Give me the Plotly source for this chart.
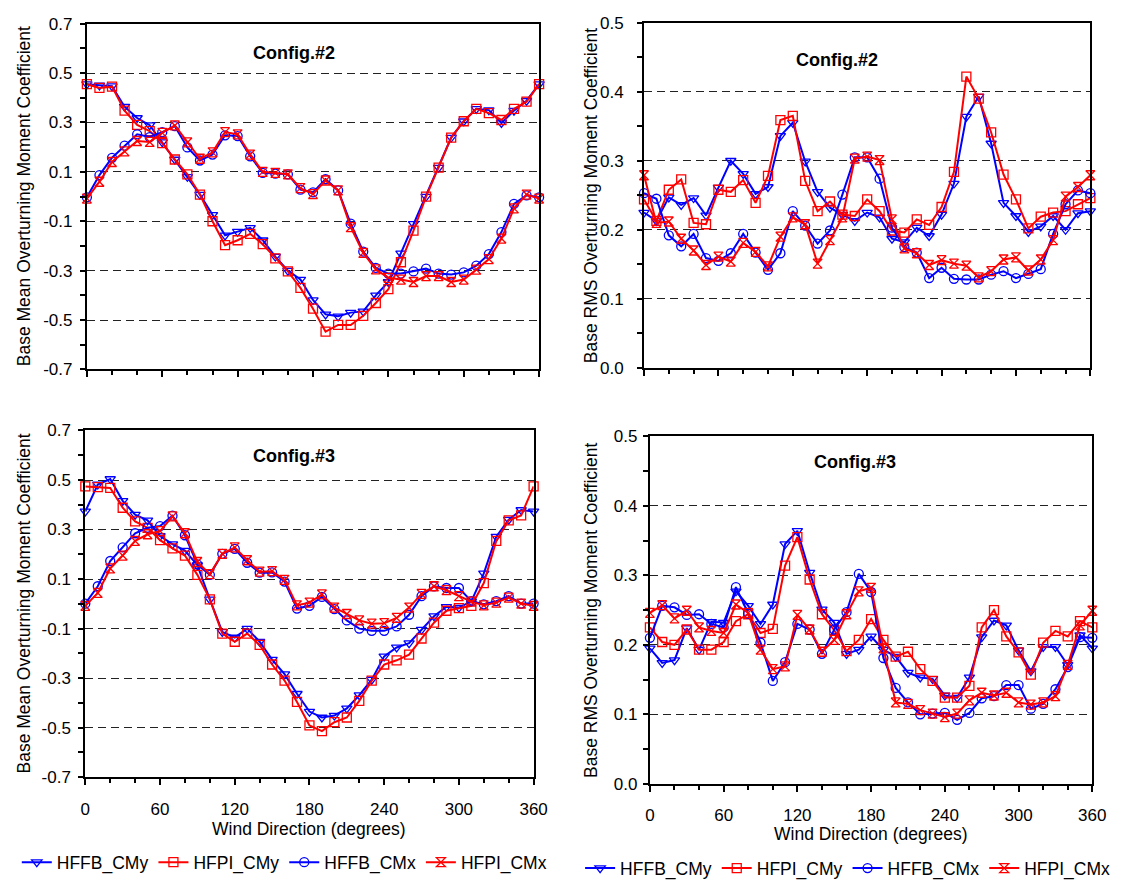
import plotly.graph_objects as go

W, H = 1124, 888
deg = list(range(0, 361, 10))

names = ["HFFB_CMy", "HFPI_CMy", "HFFB_CMx", "HFPI_CMx"]
colors = ["#0000FF", "#FF0000", "#0000FF", "#FF0000"]
symbols = ["triangle-down-open", "square-open", "circle-open", "hourglass-open"]

# ---- Config.#2 mean ----
c2_mean_hffb_cmy = [0.455, 0.45, 0.447, 0.364, 0.318, 0.289, 0.22, 0.15, 0.08, 0.008, -0.074, -0.157, -0.142,
                    -0.127, -0.177, -0.243, -0.30, -0.336, -0.419, -0.477, -0.485, -0.47, -0.465, -0.40, -0.346,
                    -0.23, -0.111, 0.0, 0.117, 0.239, 0.305, 0.355, 0.35, 0.298, 0.348, 0.388, 0.455]
c2_mean_hfpi_cmy = [0.455, 0.44, 0.445, 0.348, 0.29, 0.265, 0.216, 0.15, 0.09, 0.008, -0.10, -0.197, -0.177,
                    -0.151, -0.193, -0.25, -0.303, -0.37, -0.454, -0.547, -0.52, -0.52, -0.483, -0.431, -0.375,
                    -0.266, -0.138, 0.0, 0.117, 0.239, 0.305, 0.355, 0.338, 0.31, 0.355, 0.384, 0.455]
c2_mean_hffb_cmx = [-0.003, 0.087, 0.157, 0.206, 0.252, 0.241, 0.261, 0.285, 0.199, 0.146, 0.17, 0.248, 0.245,
                    0.163, 0.096, 0.093, 0.09, 0.028, 0.017, 0.07, 0.025, -0.11, -0.223, -0.289, -0.312, -0.312,
                    -0.303, -0.292, -0.312, -0.316, -0.307, -0.28, -0.233, -0.144, -0.03, 0.005, -0.003]
c2_mean_hfpi_cmx = [-0.008, 0.06, 0.14, 0.183, 0.225, 0.221, 0.258, 0.288, 0.219, 0.153, 0.179, 0.261, 0.252,
                    0.17, 0.1, 0.096, 0.09, 0.034, 0.01, 0.065, 0.025, -0.124, -0.228, -0.295, -0.329, -0.336,
                    -0.346, -0.322, -0.322, -0.346, -0.336, -0.296, -0.253, -0.17, -0.048, 0.008, -0.008]

# ---- Config.#2 RMS ----
c2_rms_hffb_cmy = [0.225, 0.213, 0.247, 0.236, 0.246, 0.221, 0.261, 0.3, 0.281, 0.252, 0.262, 0.336, 0.355,
                   0.299, 0.255, 0.232, 0.222, 0.213, 0.225, 0.218, 0.187, 0.182, 0.203, 0.191, 0.222, 0.267,
                   0.364, 0.393, 0.325, 0.239, 0.22, 0.197, 0.205, 0.22, 0.2, 0.224, 0.227]
c2_rms_hfpi_cmy = [0.244, 0.213, 0.258, 0.273, 0.21, 0.208, 0.258, 0.255, 0.272, 0.239, 0.278, 0.359, 0.365,
                   0.271, 0.227, 0.241, 0.222, 0.22, 0.244, 0.227, 0.199, 0.196, 0.215, 0.207, 0.233, 0.284,
                   0.422, 0.39, 0.341, 0.28, 0.244, 0.202, 0.219, 0.225, 0.227, 0.237, 0.246]
c2_rms_hffb_cmx = [0.253, 0.245, 0.192, 0.176, 0.194, 0.159, 0.155, 0.166, 0.194, 0.167, 0.142, 0.166, 0.227,
                   0.206, 0.18, 0.199, 0.251, 0.305, 0.305, 0.274, 0.203, 0.175, 0.167, 0.13, 0.145, 0.129,
                   0.128, 0.128, 0.135, 0.14, 0.13, 0.136, 0.143, 0.194, 0.237, 0.257, 0.253]
c2_rms_hfpi_cmx = [0.279, 0.21, 0.212, 0.187, 0.17, 0.149, 0.161, 0.154, 0.181, 0.168, 0.147, 0.19, 0.218,
                   0.208, 0.151, 0.185, 0.218, 0.303, 0.306, 0.301, 0.215, 0.173, 0.166, 0.149, 0.156, 0.151,
                   0.148, 0.131, 0.14, 0.157, 0.16, 0.141, 0.157, 0.185, 0.248, 0.262, 0.279]

# ---- Config.#3 mean ----
c3_mean_hffb_cmy = [0.373, 0.482, 0.504, 0.416, 0.36, 0.337, 0.274, 0.241, 0.215, 0.156, 0.018, -0.113, -0.136,
                    -0.1, -0.153, -0.225, -0.284, -0.363, -0.435, -0.459, -0.451, -0.422, -0.369, -0.306, -0.212,
                    -0.176, -0.159, -0.104, -0.05, -0.012, -0.015, 0.01, 0.123, 0.271, 0.34, 0.379, 0.373]
c3_mean_hfpi_cmy = [0.474, 0.471, 0.468, 0.388, 0.333, 0.307, 0.257, 0.224, 0.195, 0.117, 0.018, -0.12, -0.153,
                    -0.12, -0.166, -0.245, -0.31, -0.396, -0.491, -0.514, -0.478, -0.459, -0.392, -0.31, -0.245,
                    -0.228, -0.205, -0.14, -0.076, -0.028, -0.017, -0.008, 0.084, 0.254, 0.337, 0.357, 0.474]
c3_mean_hffb_cmx = [0.001, 0.071, 0.173, 0.228, 0.285, 0.307, 0.314, 0.356, 0.277, 0.159, 0.117, 0.202, 0.222,
                    0.166, 0.126, 0.127, 0.09, -0.019, -0.008, 0.028, -0.021, -0.067, -0.1, -0.109, -0.109,
                    -0.091, -0.044, 0.031, 0.071, 0.064, 0.064, 0.011, -0.002, 0.011, 0.031, 0.001, 0.001]
c3_mean_hfpi_cmx = [-0.008, 0.044, 0.143, 0.195, 0.254, 0.281, 0.294, 0.353, 0.285, 0.169, 0.12, 0.202, 0.228,
                    0.176, 0.13, 0.132, 0.097, -0.006, 0.005, 0.038, -0.015, -0.041, -0.067, -0.08, -0.078,
                    -0.057, -0.015, 0.04, 0.071, 0.055, 0.031, 0.009, -0.006, 0.005, 0.025, 0.001, -0.008]

# ---- Config.#3 RMS ----
c3_rms_hffb_cmy = [0.195, 0.174, 0.178, 0.224, 0.193, 0.233, 0.232, 0.277, 0.256, 0.23, 0.258, 0.345, 0.364,
                   0.304, 0.251, 0.232, 0.187, 0.193, 0.212, 0.193, 0.183, 0.16, 0.153, 0.151, 0.127, 0.124,
                   0.153, 0.211, 0.235, 0.228, 0.192, 0.162, 0.197, 0.197, 0.171, 0.214, 0.195]
c3_rms_hfpi_cmy = [0.225, 0.204, 0.2, 0.222, 0.193, 0.193, 0.204, 0.234, 0.244, 0.217, 0.223, 0.314, 0.355,
                   0.294, 0.244, 0.221, 0.191, 0.207, 0.237, 0.207, 0.183, 0.19, 0.165, 0.148, 0.124, 0.124,
                   0.141, 0.225, 0.25, 0.212, 0.189, 0.157, 0.203, 0.22, 0.212, 0.234, 0.225]
c3_rms_hffb_cmx = [0.21, 0.256, 0.254, 0.243, 0.244, 0.23, 0.225, 0.283, 0.245, 0.203, 0.148, 0.175, 0.23,
                   0.222, 0.187, 0.222, 0.247, 0.302, 0.276, 0.181, 0.138, 0.117, 0.1, 0.101, 0.102, 0.092,
                   0.102, 0.123, 0.126, 0.142, 0.142, 0.108, 0.115, 0.136, 0.168, 0.211, 0.21]
c3_rms_hfpi_cmx = [0.246, 0.257, 0.238, 0.249, 0.225, 0.22, 0.217, 0.258, 0.246, 0.193, 0.165, 0.169, 0.243,
                   0.222, 0.19, 0.207, 0.244, 0.277, 0.282, 0.195, 0.117, 0.115, 0.106, 0.101, 0.096, 0.101,
                   0.12, 0.131, 0.127, 0.131, 0.117, 0.114, 0.117, 0.126, 0.171, 0.228, 0.249]

mean_major = [-0.7, -0.5, -0.3, -0.1, 0.1, 0.3, 0.5, 0.7]
mean_minor = [-0.6, -0.4, -0.2, 0.0, 0.2, 0.4, 0.6]
rms_major = [0.0, 0.1, 0.2, 0.3, 0.4, 0.5]
rms_minor = [0.05, 0.15, 0.25, 0.35, 0.45]
x_major = [0, 60, 120, 180, 240, 300, 360]
x_minor = [20, 40, 80, 100, 140, 160, 200, 220, 260, 280, 320, 340]

FONT = "Liberation Sans, Arial, sans-serif"
TICK_SIZE = 17
TEXT_SIZE = 17.5

panels = [
    dict(series=[c2_mean_hffb_cmy, c2_mean_hfpi_cmy, c2_mean_hffb_cmx, c2_mean_hfpi_cmx],
         px=(83.3, 543.3), py=(15, 368.3), yr=(-0.7, 0.7), major=mean_major, minor=mean_minor,
         xlabels=False, title="Config.#2", tpos=(294, 45),
         ytitle="Base Mean Overturning Moment Coefficient", ytx=19, legend=None, ystand=4, xt=0),
    dict(series=[c2_rms_hffb_cmy, c2_rms_hfpi_cmy, c2_rms_hffb_cmx, c2_rms_hfpi_cmx],
         px=(650, 1104), py=(14, 366.7), yr=(0.0, 0.5), major=rms_major, minor=rms_minor,
         xlabels=False, title="Config.#2", tpos=(846, 52),
         ytitle="Base RMS Overturning Moment Coefficient", ytx=596, legend=None, ystand=10, xt=0),
    dict(series=[c3_mean_hffb_cmy, c3_mean_hfpi_cmy, c3_mean_hffb_cmx, c3_mean_hfpi_cmx],
         px=(81.7, 537.7), py=(430.7, 785), yr=(-0.7, 0.7), major=mean_major, minor=mean_minor,
         xlabels=True, title="Config.#3", tpos=(294, 457),
         ytitle="Base Mean Overturning Moment Coefficient", ytx=19, legend="legend", ystand=4, xt=838),
    dict(series=[c3_rms_hffb_cmy, c3_rms_hfpi_cmy, c3_rms_hffb_cmx, c3_rms_hfpi_cmx],
         px=(656, 1106), py=(436.7, 791.7), yr=(0.0, 0.5), major=rms_major, minor=rms_minor,
         xlabels=True, title="Config.#3", tpos=(865, 463),
         ytitle="Base RMS Overturning Moment Coefficient", ytx=596, legend="legend2", ystand=2, xt=843),
]

fig = go.Figure()
annotations = []
layout = {}

for i, p in enumerate(panels):
    k = i + 1
    xs = "" if k == 1 else str(k)
    xa, ya = "x" + xs, "y" + xs
    ox, oy = str(k + 4), str(k + 4)
    for j in range(4):
        fig.add_trace(go.Scatter(
            x=deg, y=p["series"][j], mode="lines+markers", name=names[j],
            xaxis=xa, yaxis=ya, cliponaxis=False,
            line=dict(color=colors[j], width=2),
            marker=dict(symbol=symbols[j], size=9, color=colors[j], line=dict(width=1.3, color=colors[j])),
            showlegend=p["legend"] is not None,
            legend=p["legend"] if p["legend"] else "legend",
        ))
    dx = [p["px"][0] / W, p["px"][1] / W]
    dy = [1 - p["py"][1] / H, 1 - p["py"][0] / H]
    ticktext = []
    for v in p["major"]:
        s = "{:.1f}".format(v)
        if s == "-0.0":
            s = "0.0"
        ticktext.append(s)
    layout["xaxis" + xs] = dict(
        domain=dx, anchor=ya, range=[0, 360], tickmode="array", tickvals=x_major,
        ticktext=[str(v) for v in x_major], showticklabels=p["xlabels"],
        ticks="outside", ticklen=6, tickwidth=1.5, tickcolor="black",
        minor=dict(tickmode="array", tickvals=x_minor, ticks="outside", ticklen=4, tickwidth=1.5, tickcolor="black"),
        showline=True, linecolor="black", linewidth=2, mirror=True, showgrid=False, zeroline=False,
        ticklabelstandoff=9, tickfont=dict(family=FONT, size=TICK_SIZE, color="black"),
    )
    layout["yaxis" + xs] = dict(
        domain=dy, anchor=xa, range=list(p["yr"]), tickmode="array", tickvals=p["major"], ticktext=ticktext,
        ticks="outside", ticklen=5, tickwidth=1.5, tickcolor="black",
        minor=dict(tickmode="array", tickvals=p["minor"], ticks="outside", ticklen=5, tickwidth=1.5,
                   tickcolor="black", showgrid=False),
        showline=True, linecolor="black", linewidth=2, mirror=True,
        showgrid=True, gridcolor="#222222", gridwidth=1, griddash="8px,5px", zeroline=False,
        ticklabelstandoff=p["ystand"], tickfont=dict(family=FONT, size=TICK_SIZE, color="black"),
    )
    # overlay axes for the inner half of crossing ticks
    layout["xaxis" + ox] = dict(
        overlaying=xa, anchor=ya, range=[0, 360], tickmode="array", tickvals=x_major,
        showticklabels=False, ticks="inside", ticklen=6, tickwidth=1.5, tickcolor="black",
        minor=dict(tickmode="array", tickvals=x_minor, ticks="inside", ticklen=4, tickwidth=1.5, tickcolor="black"),
        showline=False, showgrid=False, zeroline=False,
    )
    layout["yaxis" + oy] = dict(
        overlaying=ya, anchor=xa, range=list(p["yr"]), tickmode="array", tickvals=p["major"],
        showticklabels=False, ticks="inside", ticklen=5, tickwidth=1.5, tickcolor="black",
        minor=dict(tickmode="array", tickvals=p["minor"], ticks="inside", ticklen=5, tickwidth=1.5,
                   tickcolor="black"),
        showline=False, showgrid=False, zeroline=False,
    )
    annotations.append(dict(text="<b>" + p["title"] + "</b>", x=p["tpos"][0] / W, y=1 - p["tpos"][1] / H,
                            xref="paper", yref="paper", showarrow=False, xanchor="center", yanchor="middle",
                            font=dict(family=FONT, size=18, color="black")))
    annotations.append(dict(text=p["ytitle"], x=p["ytx"] / W, y=1 - (p["py"][0] + p["py"][1]) / 2 / H,
                            xref="paper", yref="paper", showarrow=False, textangle=-90,
                            xanchor="center", yanchor="middle",
                            font=dict(family=FONT, size=TEXT_SIZE, color="black")))
    if p["xlabels"]:
        annotations.append(dict(text="Wind Direction (degrees)", x=(p["px"][0] + p["px"][1]) / 2 / W,
                                y=1 - p["xt"] / H, xref="paper", yref="paper", showarrow=False,
                                xanchor="center", yanchor="middle",
                                font=dict(family=FONT, size=TEXT_SIZE, color="black")))

layout.update(dict(
    width=W, height=H, margin=dict(l=0, r=0, t=0, b=0),
    paper_bgcolor="white", plot_bgcolor="white",
    annotations=annotations,
    legend=dict(orientation="h", x=12 / W, y=1 - 872 / H, xanchor="left", yanchor="middle",
                font=dict(family=FONT, size=TEXT_SIZE, color="black"), bgcolor="rgba(0,0,0,0)",
                itemwidth=30, tracegroupgap=0),
    legend2=dict(orientation="h", x=585 / W, y=1 - 878 / H, xanchor="left", yanchor="middle",
                 font=dict(family=FONT, size=TEXT_SIZE, color="black"), bgcolor="rgba(0,0,0,0)",
                 itemwidth=30, tracegroupgap=0),
))
fig.update_layout(**layout)
fig.write_html("out.html")
